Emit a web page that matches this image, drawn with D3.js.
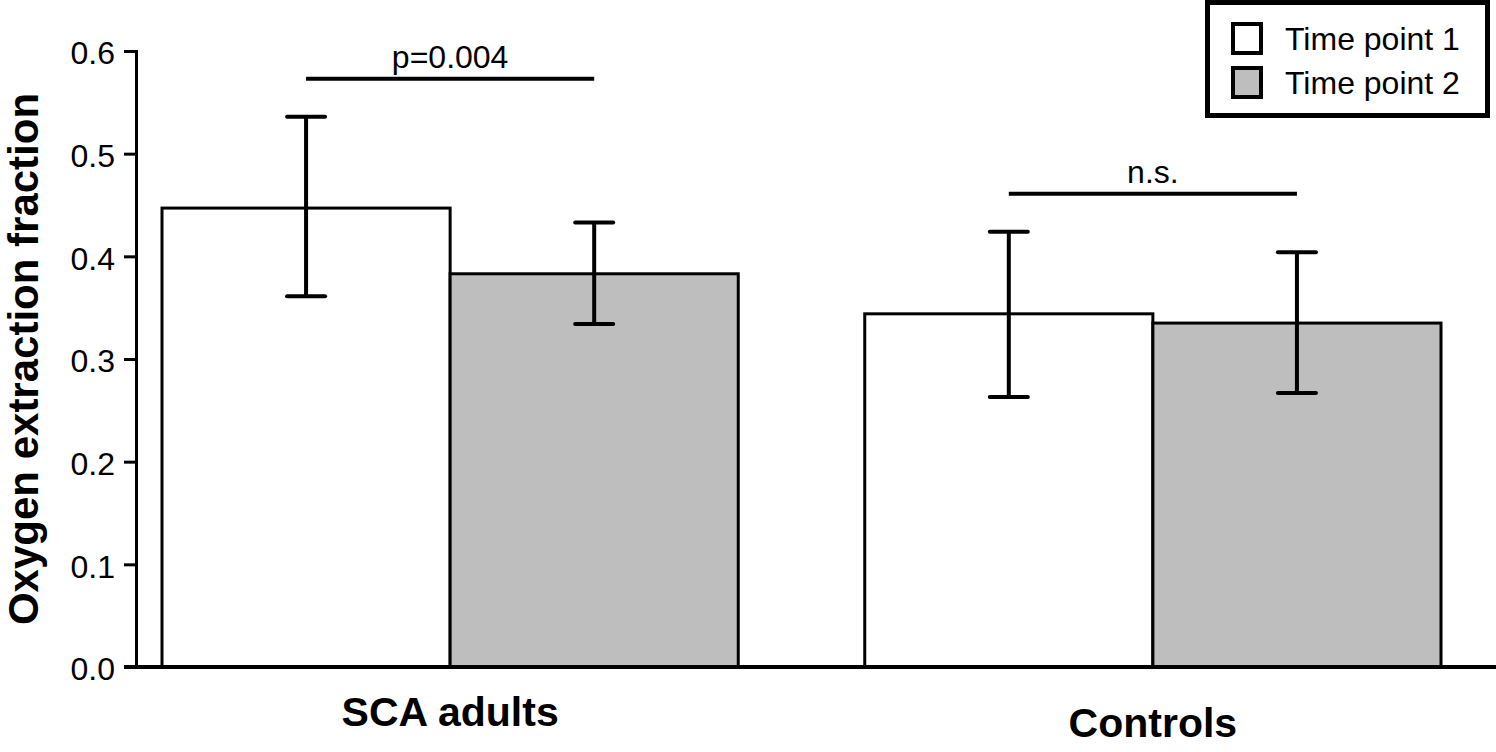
<!DOCTYPE html>
<html>
<head>
<meta charset="utf-8">
<script src="https://cdn.jsdelivr.net/npm/d3@7"></script>
<style>
  html, body { margin: 0; padding: 0; background: #fff; }
  svg text { font-family: "Liberation Sans", Arial, Helvetica, sans-serif; fill: #000; }
</style>
</head>
<body>
<svg id="chart" width="1496" height="752"></svg>
<script>
// data
const categories = ["SCA adults", "Controls"];
const series = ["Time point 1", "Time point 2"];
const means = [[0.447, 0.383], [0.344, 0.335]];
const errLow = [[0.361, 0.334], [0.263, 0.267]];
const errHigh = [[0.536, 0.433], [0.424, 0.404]];
const yTicks = [0.0, 0.1, 0.2, 0.3, 0.4, 0.5, 0.6];
const sigLabels = ["p=0.004", "n.s."];
const sigLevels = [0.573, 0.461];

const fills = ["#ffffff", "#bebebe"];

const svg = d3.select("#chart");

const x0 = d3.scaleBand()
  .domain(categories)
  .range([162, 1441])
  .paddingInner(0.18)
  .paddingOuter(0);

const x1 = d3.scaleBand()
  .domain(series)
  .range([0, x0.bandwidth()]);

const y = d3.scaleLinear()
  .domain([0, 0.6])
  .range([667, 51]);

// rows for drawing
let rows = [];
categories.forEach((c, i) => {
  series.forEach((s, j) => {
    rows.push({ cat: c, ser: s, j: j, v: means[i][j], lo: errLow[i][j], hi: errHigh[i][j] });
  });
});

// bars
svg.append("g").selectAll("rect")
  .data(rows)
  .join("rect")
    .attr("x", d => x0(d.cat) + x1(d.ser))
    .attr("y", d => y(d.v))
    .attr("width", x1.bandwidth())
    .attr("height", d => y(0) - y(d.v))
    .attr("fill", d => fills[d.j])
    .attr("stroke", "#000")
    .attr("stroke-width", 3);

// error bars
const cx = d => x0(d.cat) + x1(d.ser) + x1.bandwidth() / 2;
const eb = svg.append("g").attr("stroke", "#000").attr("stroke-width", 4);
eb.selectAll(".whisker")
  .data(rows)
  .join("line")
    .attr("class", "whisker")
    .attr("x1", cx).attr("x2", cx)
    .attr("y1", d => y(d.hi)).attr("y2", d => y(d.lo));
["hi", "lo"].forEach(k => {
  eb.selectAll(".cap-" + k)
    .data(rows)
    .join("line")
      .attr("class", "cap-" + k)
      .attr("stroke-linecap", "round")
      .attr("x1", d => cx(d) - 19).attr("x2", d => cx(d) + 19)
      .attr("y1", d => y(d[k])).attr("y2", d => y(d[k]));
});

// y axis
const yAxis = d3.axisLeft(y)
  .tickValues(yTicks)
  .tickFormat(d3.format(".1f"))
  .tickSizeOuter(0)
  .tickSize(12)
  .tickPadding(9);

const yAxisG = svg.append("g")
  .attr("transform", "translate(136,0)")
  .call(yAxis);
yAxisG.select(".domain").attr("stroke-width", 3);
yAxisG.selectAll(".tick line").attr("stroke-width", 3);
yAxisG.selectAll(".tick text")
  .style("font-size", "32px")
  .attr("dy", "0.4em")
  .style("font-family", "'Liberation Sans', Arial, sans-serif");

// x axis baseline
svg.append("line")
  .attr("x1", 124).attr("x2", 1496)
  .attr("y1", y(0)).attr("y2", y(0))
  .attr("stroke", "#000")
  .attr("stroke-width", 4);

// category labels (second one sits a bit lower in the original)
const catBaseline = [726, 737];
svg.append("g").selectAll("text")
  .data(categories)
  .join("text")
    .attr("x", d => x0(d) + x0.bandwidth() / 2)
    .attr("y", (d, i) => catBaseline[i])
    .attr("text-anchor", "middle")
    .style("font-size", "41px")
    .style("font-weight", "bold")
    .text(d => d);

// y title
svg.append("text")
  .attr("transform", `translate(38,${(51 + 667) / 2}) rotate(-90)`)
  .attr("text-anchor", "middle")
  .style("font-size", "42px")
  .style("font-weight", "bold")
  .text("Oxygen extraction fraction");

// significance brackets
const sig = svg.append("g");
categories.forEach((c, i) => {
  let xa = x0(c) + x1(series[0]) + x1.bandwidth() / 2;
  let xb = x0(c) + x1(series[1]) + x1.bandwidth() / 2;
  sig.append("line")
    .attr("x1", xa).attr("x2", xb)
    .attr("y1", y(sigLevels[i])).attr("y2", y(sigLevels[i]))
    .attr("stroke", "#000")
    .attr("stroke-width", 4);
  sig.append("text")
    .attr("x", (xa + xb) / 2)
    .attr("y", y(sigLevels[i]) - 11)
    .attr("text-anchor", "middle")
    .style("font-size", "32px")
    .text(sigLabels[i]);
});

// legend
const legend = svg.append("g");
legend.append("rect")
  .attr("x", 1207.5).attr("y", 2.5)
  .attr("width", 280).attr("height", 113)
  .attr("fill", "#fff")
  .attr("stroke", "#000")
  .attr("stroke-width", 5);

const legendItem = legend.selectAll(".item")
  .data(series)
  .join("g")
    .attr("class", "item")
    .attr("transform", (d, i) => `translate(1233,${24 + i * 44})`);
legendItem.append("rect")
  .attr("width", 28).attr("height", 29)
  .attr("fill", (d, i) => fills[i])
  .attr("stroke", "#000")
  .attr("stroke-width", 4);
legendItem.append("text")
  .attr("x", 52)
  .attr("y", 26)
  .style("font-size", "32px")
  .text(d => d);
</script>
</body>
</html>
